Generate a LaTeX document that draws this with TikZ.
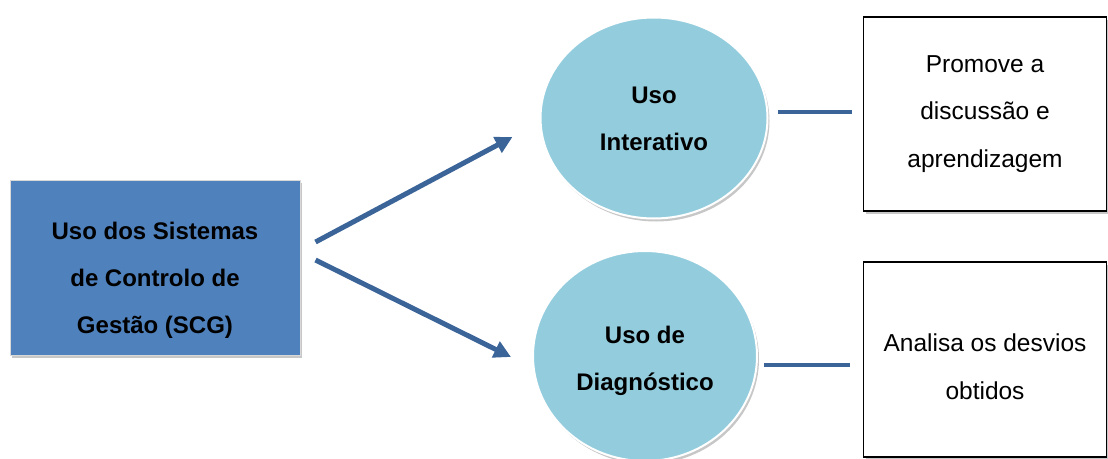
\documentclass[tikz,border=0pt]{standalone}
\usepackage{fontspec}
\setmainfont{Liberation Sans}
\usetikzlibrary{arrows.meta,shadows,shapes.geometric}
\definecolor{rectblue}{HTML}{4F81BD}
\definecolor{circblue}{HTML}{93CDDD}
\definecolor{arrblue}{HTML}{3B6499}
\tikzset{
  shad/.style={drop shadow={shadow xshift=2pt,shadow yshift=-3pt,fill=black,opacity=0.22}},
  btext/.style={align=center,font=\bfseries\fontsize{24}{47}\selectfont},
  rtext/.style={align=center,font=\fontsize{24.5}{47.5}\selectfont},
  mainbox/.style={draw=white!85!black,line width=1pt,fill=rectblue,minimum width=290pt,minimum height=175pt,shad},
  usecirc/.style={ellipse,draw=white,line width=2pt,fill=circblue,shad},
  infobox/.style={draw=black,line width=1.3pt,fill=white,minimum width=243pt,shad},
  arr/.style={draw=arrblue,line width=5pt,-{Triangle[length=17pt,width=17pt]}},
  conn/.style={draw=arrblue,line width=4.5pt}
}
\begin{document}
\begin{tikzpicture}[x=1pt,y=-1pt]
\useasboundingbox (0,0) rectangle (1108,458);
\node[mainbox,label={[btext,yshift=-13pt]center:Uso dos Sistemas\\de Controlo de\\Gestão (SCG)}] (r) at (155,267.5) {};
\node[usecirc,minimum width=227pt,minimum height=201pt,label={[btext,yshift=-1pt]center:Uso\\Interativo}] (c1) at (654,118) {};
\node[usecirc,minimum width=224pt,minimum height=210pt,label={[btext,yshift=-5pt]center:Uso de\\Diagnóstico}] (c2) at (645,356) {};
\node[infobox,minimum height=194pt,label={[rtext,yshift=0pt]center:Promove a\\discussão e\\aprendizagem}] (b1) at (985,114) {};
\node[infobox,minimum height=195pt,label={[rtext,yshift=-7pt]center:Analisa os desvios\\obtidos}] (b2) at (985,359.5) {};
\draw[arr] ([xshift=15pt,yshift=25.5pt]r.east) -- ([xshift=-27pt,yshift=-19pt]c1.west);
\draw[arr] ([xshift=15pt,yshift=7.5pt]r.east) -- ([xshift=-21pt,yshift=-1pt]c2.west);
\draw[conn] ([xshift=9pt,yshift=6pt]c1.east) -- ([xshift=-11pt,yshift=6pt]c1.east -| b1.west);
\draw[conn] ([xshift=6pt,yshift=-9pt]c2.east) -- ([xshift=-13pt,yshift=-9pt]c2.east -| b2.west);
\end{tikzpicture}
\end{document}
